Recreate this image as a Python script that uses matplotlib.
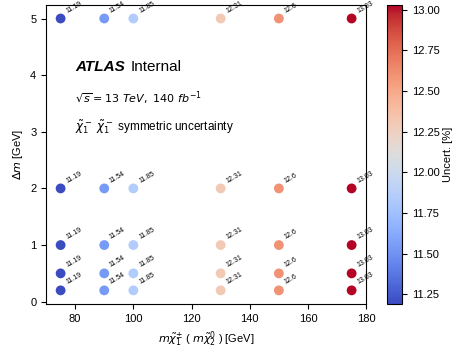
import matplotlib
matplotlib.use("Agg")
import matplotlib.pyplot as plt
import numpy as np

plt.rcParams['font.family'] = ['Liberation Sans', 'DejaVu Sans']
plt.rcParams['mathtext.fontset'] = 'dejavusans'

# Grid points: chargino mass and mass splitting
masses = [75, 90, 100, 130, 150, 175]
dms = [0.2, 0.5, 1, 2, 5]
# uncertainty per mass (same for every delta m)
uncert = [11.19, 11.54, 11.85, 12.31, 12.6, 13.03]

x, y, z = [], [], []
for m, u in zip(masses, uncert):
    for d in dms:
        x.append(m)
        y.append(d)
        z.append(u)

fig = plt.figure(figsize=(4.56, 3.51), dpi=100)
ax = fig.add_axes([0.101, 0.134, 0.702, 0.852])
cax = fig.add_axes([0.849, 0.134, 0.033, 0.852])

sc = ax.scatter(x, y, c=z, cmap='coolwarm', s=50, edgecolors='none')
for xi, yi, zi in zip(x, y, z):
    ax.annotate(f'{zi:g}', (xi, yi), xytext=(3, 3), textcoords='offset points',
                fontsize=5, rotation=30, ha='left', va='bottom')

ax.set_xlabel(r'$m\tilde{\chi}_1^{\pm}$ ( $m\tilde{\chi}_2^0$ ) [GeV]', fontsize=8)
ax.set_ylabel(r'$\Delta m$ [GeV]', fontsize=8)
ax.tick_params(labelsize=8)

ax.text(0.09, 0.78, 'ATLAS', transform=ax.transAxes, fontsize=11,
        fontweight='bold', fontstyle='italic')
ax.text(0.265, 0.78, 'Internal', transform=ax.transAxes, fontsize=11)
ax.text(0.09, 0.675, r'$\sqrt{s} = 13\ TeV,\ 140\ fb^{-1}$', transform=ax.transAxes, fontsize=8)
ax.text(0.09, 0.58, r'$\tilde{\chi}_1^-\ \tilde{\chi}_1^-$ symmetric uncertainty',
        transform=ax.transAxes, fontsize=8.5)

cb = fig.colorbar(sc, cax=cax)
cb.set_label('Uncert. [%]', fontsize=8, labelpad=2)
cb.ax.tick_params(labelsize=8)

fig.savefig('out.png', dpi=100)
